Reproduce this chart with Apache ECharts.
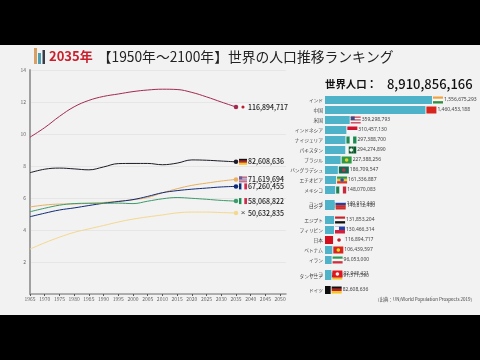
<!DOCTYPE html>
<html><head><meta charset="utf-8">
<style>html,body{margin:0;padding:0;background:#000}#c{width:480px;height:360px}</style>
<script src="https://cdn.jsdelivr.net/npm/echarts@6/dist/echarts.min.js"></script>
</head><body><div id="c"></div>
<script>
// ---- data ----
const currentYear = '2035年';
const worldPopulation = '8,910,856,166';
const years = [1965,1970,1975,1980,1985,1990,1995,2000,2005,2010,2015,2020,2025,2030,2035];
const japan   = [9.8,10.4,11.1,11.7,12.1,12.35,12.5,12.65,12.75,12.8,12.78,12.6,12.32,12.0,11.6894717];
const germany = [7.58,7.8,7.87,7.82,7.76,7.94,8.15,8.16,8.16,8.08,8.18,8.38,8.36,8.31,8.2608636];
const uk      = [5.44,5.56,5.62,5.63,5.67,5.72,5.80,5.89,6.03,6.32,6.58,6.79,6.93,7.06,7.1619694];
const france  = [4.83,5.05,5.25,5.38,5.53,5.67,5.78,5.90,6.10,6.33,6.46,6.55,6.62,6.69,6.7260455];
const italy   = [5.14,5.36,5.55,5.65,5.67,5.67,5.68,5.65,5.80,5.95,6.03,5.98,5.92,5.85,5.8068822];
const korea   = [2.81,3.2,3.55,3.85,4.07,4.28,4.5,4.68,4.82,4.94,5.07,5.12,5.12,5.09,5.0632835];
const barNames  = ['インド','中国','米国','インドネシア','ナイジェリア','パキスタン','ブラジル','バングラデシュ','エチオピア','メキシコ','ロシア','コンゴ','エジプト','フィリピン','日本','ベトナム','イラン','タンザニア','トルコ','ドイツ'];
const barValues = [1556675293,1460453188,359298793,310457130,297388700,294274890,227388256,186709547,161336887,148070083,140812460,140012440,131853204,130466314,116894717,106439597,96053000,91511590,92948421,82608636];
const barRanks  = [1,2,3,4,5,6,7,8,9,10,11.6,11.4,13,14,15,16,17,18.6,18.4,20];
const flagKeys  = ['in','cn','us','id','ng','pk','br','bd','et','mx','cd','ru','eg','ph','jp','vn','ir','tz','tr','de'];
// ---- styling ----
const WHITE='#f6f6f6';
const flags = {
 in:{h:['#f0a33c',WHITE,'#2f8f3c']}, cn:{h:['#d9241c']},
 us:{h:['#c8455a',WHITE,'#c8455a',WHITE,'#c8455a'],canton:'#3c4a86'},
 id:{h:['#d3122d',WHITE]}, ng:{v:['#1a8a50',WHITE,'#1a8a50']},
 pk:{v:[WHITE,'#0b5a2a','#0b5a2a','#0b5a2a'],dot:WHITE}, br:{h:['#2a9a45'],dot:'#e8d02a'},
 bd:{h:['#0f6a50'],dot:'#c9304a'}, et:{h:['#2a9a45','#e8c82a','#d8362c'],dot:'#2850a0'},
 mx:{v:['#1f7f50',WHITE,'#c8283c']}, ru:{h:[WHITE,'#2040a8','#d42a2a']},
 cd:{h:['#2a6fc8','#e8c020','#c83030']}, eg:{h:['#c8222c',WHITE,'#111']},
 ph:{h:['#2a3fa8','#d0203c'],canton:WHITE}, jp:{h:[WHITE],dot:'#bc1c2d'},
 vn:{h:['#d8251d'],dot:'#f2e020'}, ir:{h:['#2a9a55',WHITE,'#d0303c']},
 tr:{h:['#e0151f'],dot:WHITE}, tz:{h:['#1a9a50','#111','#e8c020']}, de:{h:['#111','#cc1a1a','#f2c818']},
 gb:{h:['#c2708a','#b0a0c8','#c2708a'],canton:'#6a5a9a'}, fr:{v:['#0a2a80',WHITE,'#d22a50']},
 it:{v:['#159050',WHITE,'#cf2a4a']}, kr:{h:['#f2f2f2'],mark:'×'}
};
const lineDefs = [
 {name:'日本',data:japan,color:'#a32a4e',flag:'jp'},
 {name:'ドイツ',data:germany,color:'#1c1c28',flag:'de'},
 {name:'英国',data:uk,color:'#e8b060',flag:'gb'},
 {name:'フランス',data:france,color:'#0f2a78',flag:'fr'},
 {name:'イタリア',data:italy,color:'#3d9a6c',flag:'it'},
 {name:'韓国',data:korea,color:'#f5d88e',flag:'kr'}
];
function flagShapes(key,x,yc,w,h){
  const f=flags[key],out=[],top=yc-h/2;
  if(f.h){const n=f.h.length;f.h.forEach((c,i)=>out.push({type:'rect',shape:{x:x,y:top+i*h/n,width:w,height:h/n},style:{fill:c}}));}
  if(f.v){const n=f.v.length;f.v.forEach((c,i)=>out.push({type:'rect',shape:{x:x+i*w/n,y:top,width:w/n,height:h},style:{fill:c}}));}
  if(f.canton)out.push({type:'rect',shape:{x:x,y:top,width:w*0.4,height:h*0.5},style:{fill:f.canton}});
  if(f.dot)out.push({type:'circle',shape:{cx:x+w/2,cy:yc,r:h*0.26},style:{fill:f.dot}});
  if(f.mark)out.push({type:'text',x:x+w/2,y:yc,style:{text:f.mark,fontSize:8,fill:'#444',align:'center',verticalAlign:'middle'}});
  return out;
}
const FONT='"Noto Sans CJK JP","Noto Sans",sans-serif';
const rankSlots = Array.from({length:191},(_,i)=>(1+i/10).toFixed(1));
const slotOf = r => Math.round((r-1)*10);
const barData = barValues.map((v,i)=>({value:[v,slotOf(barRanks[i])],name:barNames[i],
  itemStyle:{color: flagKeys[i]==='jp'?'#d20f1e':flagKeys[i]==='de'?'#0d0d0d':'#4eb3c9'}}));
const fmt = n => Math.round(n).toLocaleString('en-US');

const lineSeries = lineDefs.map(d=>({
  type:'line',name:d.name,xAxisIndex:0,yAxisIndex:0,smooth:0.4,
  data:years.map((y,i)=>[y,d.data[i]]),
  showSymbol:true,showAllSymbol:true,symbolSize:4.5,
  symbol:(v,p)=>p.dataIndex===years.length-1?'circle':'none',
  lineStyle:{color:d.color,width:1},itemStyle:{color:d.color},
  endLabel:{show:true,distance:12,fontFamily:FONT,fontSize:7,fontWeight:500,color:'#1a1a1a',
    formatter:p=>fmt(p.value[1]*1e7)},
  z:3
}));
const flagSeries = {
  type:'custom',xAxisIndex:0,yAxisIndex:0,silent:true,z:4,
  encode:{x:0,y:1},
  data:lineDefs.map((d,i)=>[years[years.length-1],d.data[years.length-1],i]),
  renderItem:(params,api)=>{
    const d=lineDefs[api.value(2)],p=api.coord([api.value(0),api.value(1)]);
    return {type:'group',children:flagShapes(d.flag,p[0]+3,p[1],8,6)};
  }
};
const barSeries = {
  type:'bar',xAxisIndex:1,yAxisIndex:1,barWidth:8,encode:{x:0,y:1},data:barData,silent:true,clip:false,
  label:{show:true,position:'left',distance:2,formatter:p=>p.name,fontFamily:FONT,fontSize:4.7,color:'#444'}
};
const barFlagSeries = {
  type:'custom',xAxisIndex:1,yAxisIndex:1,silent:true,z:4,encode:{x:0,y:1},
  data:barValues.map((v,i)=>[v,slotOf(barRanks[i]),i]),
  renderItem:(params,api)=>{
    const i=api.value(2),p=api.coord([api.value(0),api.value(1)]);
    const ch=flagShapes(flagKeys[i],p[0]+1,p[1],10,7);
    ch.push({type:'text',x:p[0]+12,y:p[1],style:{text:fmt(barValues[i]),font:'5px "Noto Sans","Noto Sans CJK JP",sans-serif',fill:'#444',verticalAlign:'middle'}});
    return {type:'group',children:ch};
  }
};
const chart = echarts.init(document.getElementById('c'),null,{renderer:'canvas'});
chart.setOption({
  animation:false,backgroundColor:'#f2f2f2',
  title:[
    {left:49,top:47.5,itemGap:0,padding:0,text:'{a|'+currentYear+'} {b|【1950年～2100年】世界の人口推移ランキング}',
     textStyle:{rich:{a:{fontFamily:FONT,fontSize:13,fontWeight:700,color:'#c9202c'},
                      b:{fontFamily:FONT,fontSize:13.8,fontWeight:400,color:'#222'}}}},
    {left:325,top:75,padding:0,text:'{a|世界人口：}  {b|'+worldPopulation+'}',
     textStyle:{rich:{a:{fontFamily:FONT,fontSize:10.4,fontWeight:700,color:'#111'},
                      b:{fontFamily:FONT,fontSize:13,fontWeight:500,color:'#111'}}}},
    {left:375,top:297,padding:0,text:'（出典：UN/World Population Prospects 2019）',
     textStyle:{fontFamily:FONT,fontSize:4.5,fontWeight:400,color:'#444'}}
  ],
  grid:[
    {left:30,top:70,width:256,height:224},
    {left:325,top:99.5,width:110,height:191}
  ],
  xAxis:[
    {type:'value',gridIndex:0,min:1965,max:2052,interval:5,
     axisLine:{show:true,lineStyle:{color:'#999',width:1.5}},
     axisTick:{show:true,length:2,lineStyle:{color:'#555',width:1}},
     axisLabel:{fontSize:5,color:'#666',margin:3,fontFamily:FONT,showMaxLabel:false,formatter:v=>String(v)},
     splitLine:{show:false}},
    {type:'value',gridIndex:1,min:0,max:1600000000,show:false,splitLine:{show:false}}
  ],
  yAxis:[
    {type:'value',gridIndex:0,min:0,max:14,interval:2,
     axisLine:{show:true,lineStyle:{color:'#a0a0a0',width:2}},axisTick:{show:false},
     axisLabel:{fontSize:5,color:'#666',margin:4,fontFamily:FONT,formatter:v=>v===0?'':String(v)},
     splitLine:{show:true,lineStyle:{color:'#e6e6e6',width:1}}},
    {type:'category',gridIndex:1,data:rankSlots,inverse:true,show:false}
  ],
  series:[...lineSeries,flagSeries,barSeries,barFlagSeries],
  graphic:[
    {type:'rect',shape:{x:0,y:0,width:480,height:45},style:{fill:'#000'},z:100},
    {type:'rect',shape:{x:0,y:315,width:480,height:45},style:{fill:'#000'},z:100},
    {type:'rect',shape:{x:34,y:48,width:3,height:16},style:{fill:'#d9a066'},z:100},
    {type:'rect',shape:{x:38,y:53,width:3,height:11},style:{fill:'#4b9fb5'},z:100},
    {type:'rect',shape:{x:42.5,y:50,width:2.5,height:14},style:{fill:'#3a3a4a'},z:100}
  ]
});
</script></body></html>
